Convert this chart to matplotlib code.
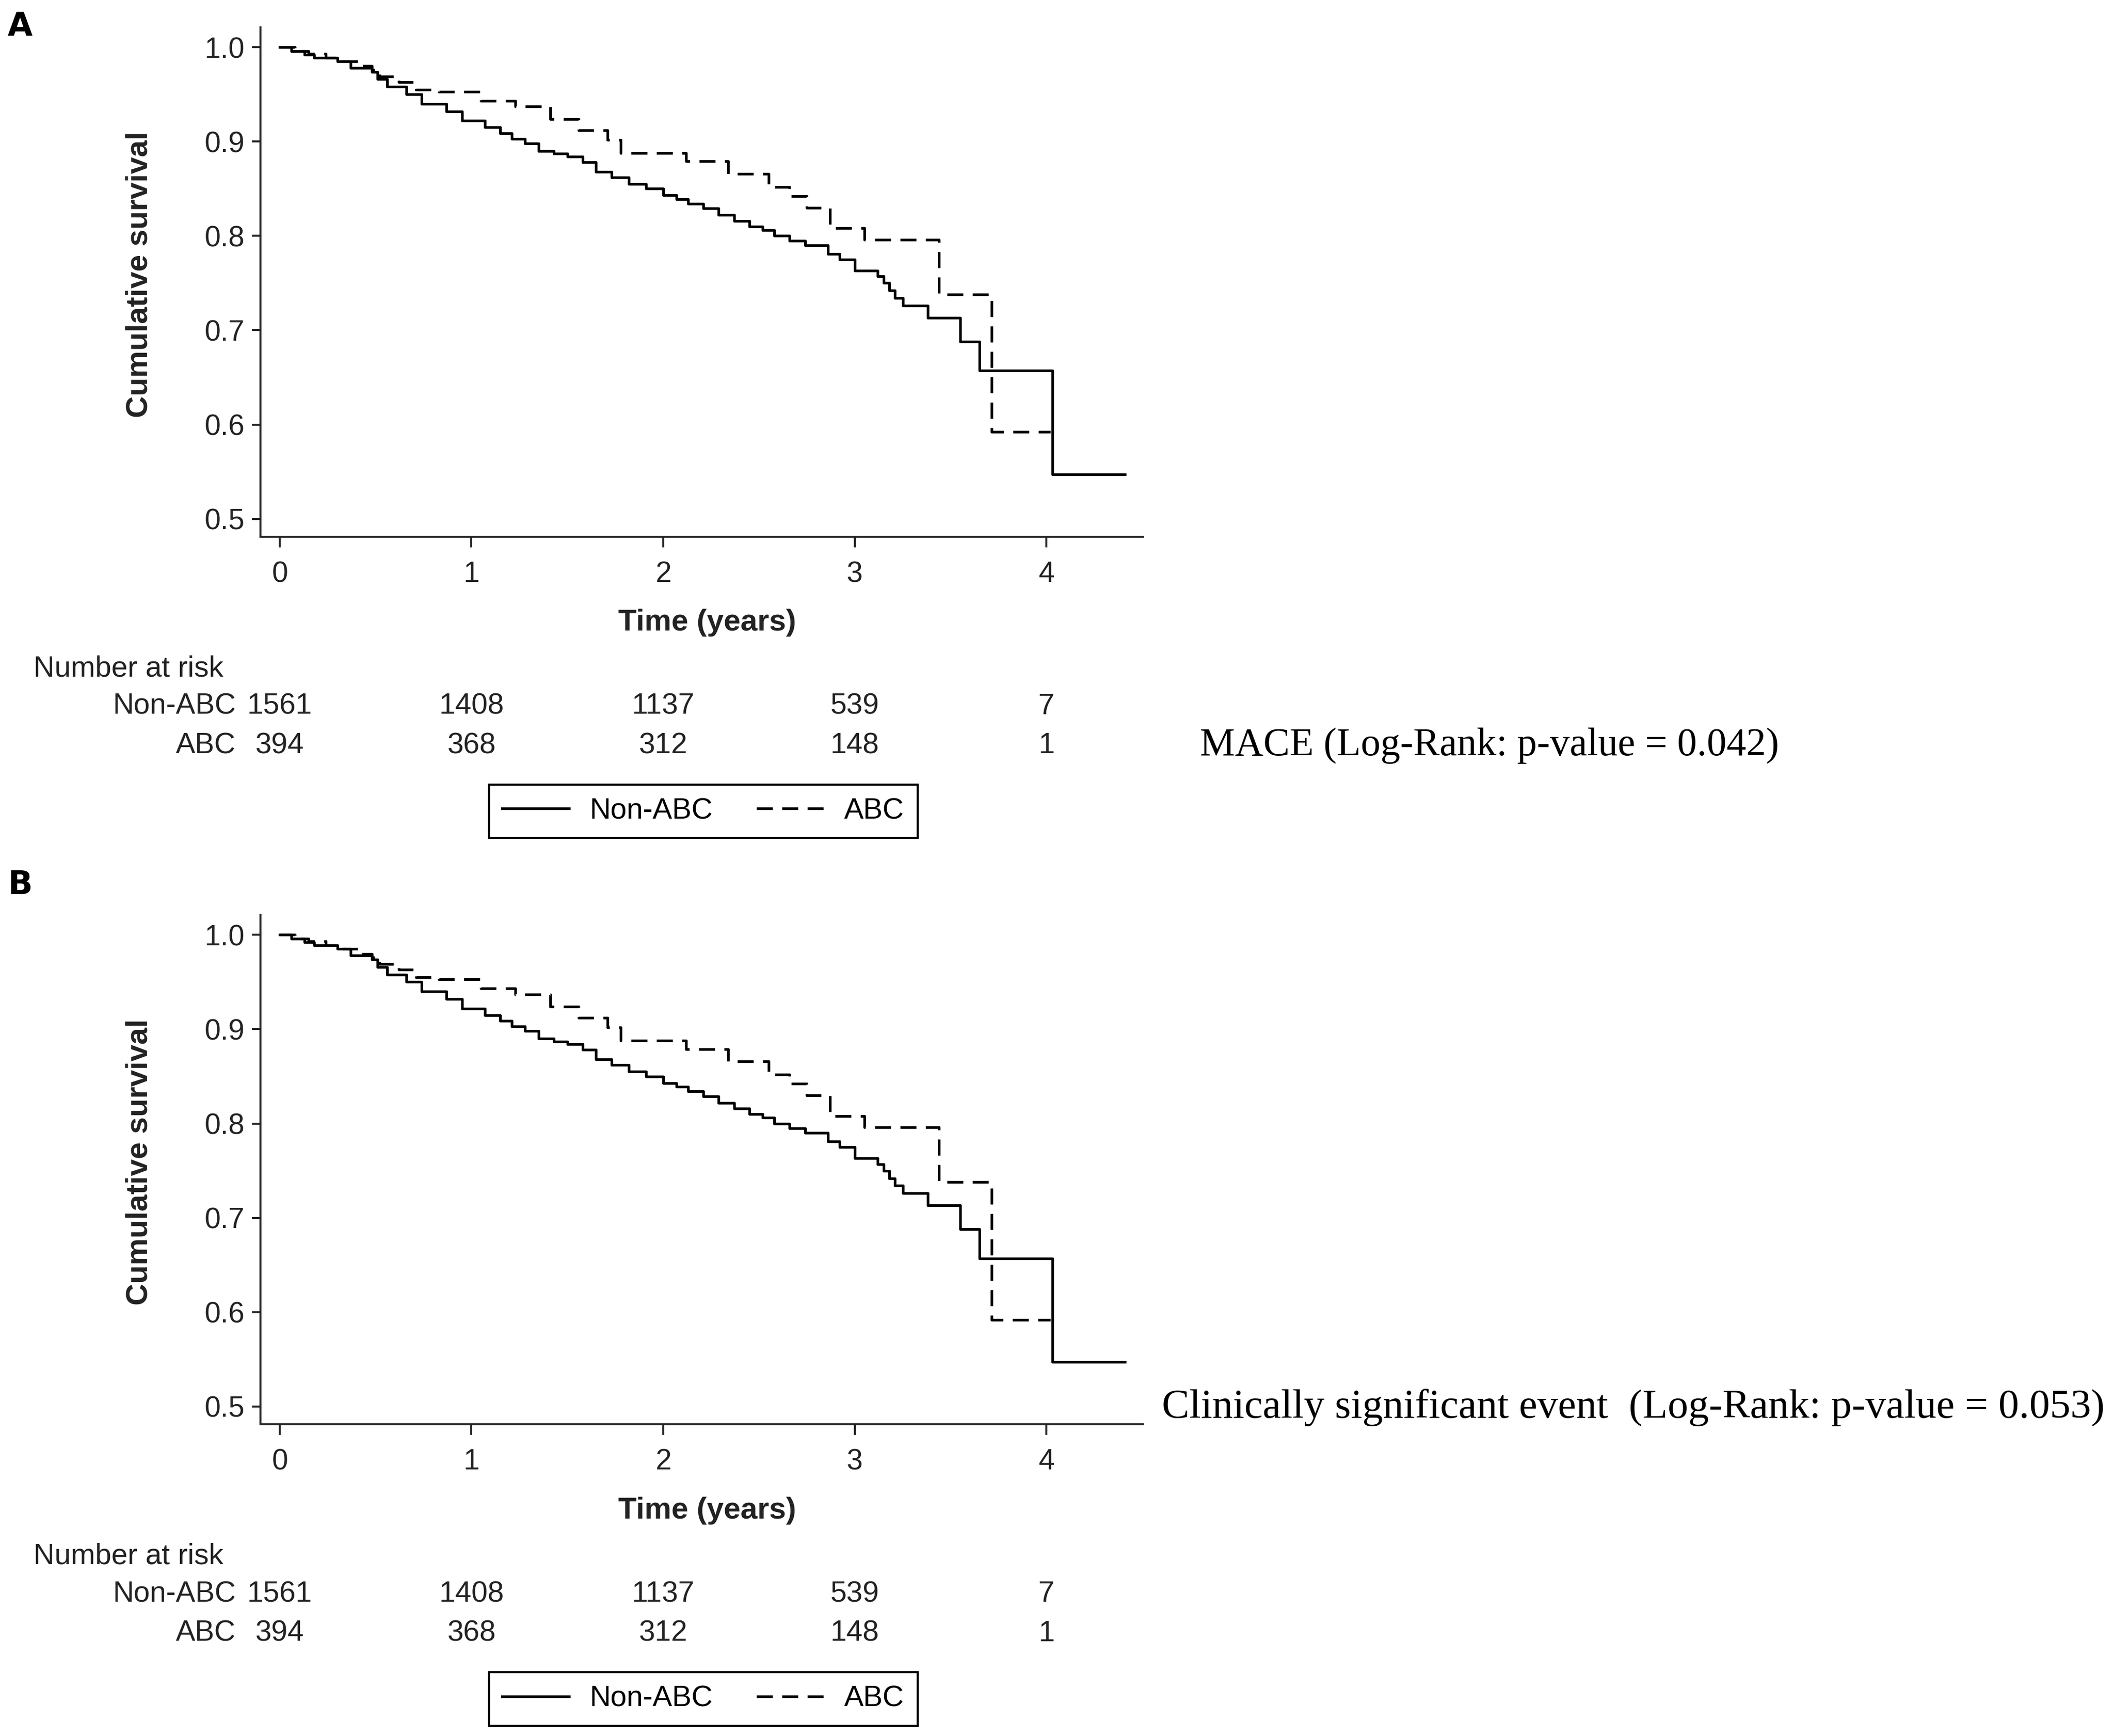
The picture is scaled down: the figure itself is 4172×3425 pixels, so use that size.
import matplotlib
matplotlib.use("Agg")
import matplotlib.pyplot as plt
from matplotlib.transforms import blended_transform_factory
from matplotlib.lines import Line2D

# Kaplan-Meier steps: time (years) and survival after each step
non_abc_t = [0.00, 0.06, 0.13, 0.18, 0.30, 0.37, 0.48, 0.51, 0.56, 0.66, 0.74, 0.87,
             0.95, 1.07, 1.15, 1.21, 1.28, 1.35, 1.43, 1.50, 1.58, 1.65, 1.73, 1.82,
             1.91, 2.00, 2.07, 2.13, 2.21, 2.29, 2.37, 2.45, 2.52, 2.58, 2.66, 2.74,
             2.86, 2.92, 3.00, 3.12, 3.15, 3.18, 3.21, 3.25, 3.38, 3.55, 3.65, 4.03, 4.41]
non_abc_s = [1.000, 0.996, 0.992, 0.989, 0.985, 0.978, 0.974, 0.966, 0.958, 0.950, 0.940, 0.932,
             0.922, 0.915, 0.909, 0.903, 0.898, 0.890, 0.887, 0.884, 0.878, 0.868, 0.862, 0.855,
             0.850, 0.843, 0.839, 0.834, 0.829, 0.822, 0.816, 0.810, 0.806, 0.800, 0.795, 0.790,
             0.781, 0.775, 0.763, 0.757, 0.750, 0.742, 0.734, 0.726, 0.713, 0.688, 0.657, 0.547, 0.547]

abc_t = [0.00, 0.08, 0.15, 0.24, 0.33, 0.42, 0.48, 0.52, 0.62, 0.71, 0.83, 1.05, 1.23,
         1.41, 1.56, 1.71, 1.78, 2.12, 2.34, 2.55, 2.66, 2.75, 2.87, 3.05, 3.44, 3.715, 4.02]
abc_s = [1.000, 0.996, 0.993, 0.989, 0.985, 0.980, 0.976, 0.969, 0.963, 0.955, 0.953, 0.943, 0.937,
         0.924, 0.912, 0.902, 0.888, 0.879, 0.866, 0.852, 0.842, 0.830, 0.808, 0.796, 0.738, 0.592, 0.592]

risk_times = [0, 1, 2, 3, 4]
risk_non_abc = [1561, 1408, 1137, 539, 7]
risk_abc = [394, 368, 312, 148, 1]
group_names = ["Non-ABC", "ABC"]

x_ticks = [0, 1, 2, 3, 4]
y_ticks = [0.5, 0.6, 0.7, 0.8, 0.9, 1.0]

panel_letters = ["A", "B"]
panel_notes = ["MACE (Log-Rank: p-value = 0.042)",
               "Clinically significant event  (Log-Rank: p-value = 0.053)"]

sans = "Liberation Sans"
serif = "Liberation Serif"
dash = (0, (6, 3.5))
lw = 3.8

fig = plt.figure(figsize=(41.72, 34.25), dpi=100)

# per panel: axes bottom, letter y, note x/y/size, shift of everything below
layout = [
    dict(bottom=0.6908, letter_y=0.9844, note_x=0.5676, note_y=0.5704, note_size=56, dy=0.0),
    dict(bottom=0.1795, letter_y=0.4903, note_x=0.5497, note_y=0.1891, note_size=58.5, dy=0.5113),
]

for letter, note, lay in zip(panel_letters, panel_notes, layout):
    dy = lay["dy"]
    ax = fig.add_axes([0.1231, lay["bottom"], 0.4177, 0.2934])

    ax.step(non_abc_t, non_abc_s, where="post", color="black", lw=lw)
    ax.step(abc_t, abc_s, where="post", color="black", lw=lw, linestyle=dash)

    ax.set_xlim(-0.102, 4.505)
    ax.set_ylim(0.481, 1.021)
    ax.set_xticks(x_ticks)
    ax.set_yticks(y_ticks)
    ax.set_xticklabels([str(v) for v in x_ticks], family=sans)
    ax.set_yticklabels(["%.1f" % v for v in y_ticks], family=sans)
    for s in ["top", "right"]:
        ax.spines[s].set_visible(False)
    for s in ["left", "bottom"]:
        ax.spines[s].set_linewidth(2.8)
        ax.spines[s].set_color("#222222")
    ax.tick_params(axis="x", length=15, width=2.8, pad=19, labelsize=41,
                   color="#222222", labelcolor="#222222")
    ax.tick_params(axis="y", length=12, width=2.8, pad=10, labelsize=41,
                   color="#222222", labelcolor="#222222")

    fig.text(0.0036, lay["letter_y"], letter, fontsize=46, fontweight="bold",
             family="DejaVu Sans", ha="left", va="center")
    fig.text(0.0660, 0.842 - dy, "Cumulative survival", rotation=90, fontsize=43,
             fontweight="bold", family=sans, ha="center", va="center", color="#222222")
    fig.text(0.3345, 0.6412 - dy, "Time (years)", fontsize=43, fontweight="bold",
             family=sans, ha="center", va="center", color="#222222")

    # number at risk table
    fig.text(0.0159, 0.6148 - dy, "Number at risk", fontsize=41.5, family=sans,
             ha="left", va="center", color="#222222")
    tr = blended_transform_factory(ax.transData, fig.transFigure)
    for name, counts, yy in zip(group_names, [risk_non_abc, risk_abc], [0.5930, 0.5704]):
        fig.text(0.1116, yy - dy, name, fontsize=41.5, family=sans,
                 ha="right", va="center", color="#222222")
        for t, n in zip(risk_times, counts):
            ax.text(t, yy - dy, str(n), transform=tr, fontsize=41.5, family=sans,
                    ha="center", va="center", color="#222222", clip_on=False)

    handles = [Line2D([], [], color="black", lw=lw),
               Line2D([], [], color="black", lw=lw, linestyle=dash)]
    leg = ax.legend(handles, group_names, loc="center", bbox_to_anchor=(0.3326, 0.5327 - dy),
                    bbox_transform=fig.transFigure, ncol=2, frameon=True, fancybox=False,
                    framealpha=1, edgecolor="black", handlelength=2.3, handletextpad=0.7,
                    columnspacing=1.5, borderpad=0.45, prop={"family": sans, "size": 41.5})
    leg.get_frame().set_linewidth(3)

    fig.text(lay["note_x"], lay["note_y"], note, fontsize=lay["note_size"], family=serif,
             ha="left", va="center", color="black")

fig.savefig("out.png", dpi=100, facecolor="white")
